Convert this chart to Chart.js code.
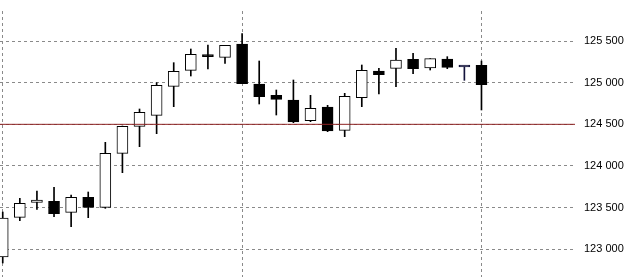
<!DOCTYPE html>
<html>
<head>
<meta charset="utf-8">
<script src="https://cdn.jsdelivr.net/npm/chart.js@4/dist/chart.umd.min.js"></script>
<style>
  html, body { margin: 0; padding: 0; background: #fff; }
  #wrap { width: 638px; height: 277px; }
</style>
</head>
<body>
<div id="wrap"><canvas id="myChart" width="638" height="277"></canvas></div>
<script>
// candles, left to right
const opens  = [122908, 123384, 123564, 123576, 123444, 123624, 123504, 124152, 124476, 124608,
                124956, 125148, 125332, 125304, 125464, 124984, 124848, 124792, 124544, 124708,
                124428, 124820, 125140, 125172, 125280, 125176, 125284, 125188, 125208];
const highs  = [123448, 123612, 123700, 123744, 123652, 123688, 124284, 124480, 124684, 125000,
                125240, 125404, 125452, 125448, 125588, 125260, 124912, 125032, 124848, 124728,
                124872, 125212, 125172, 125412, 125352, 125288, 125312, 125188, 125260];
const lows   = [122836, 123344, 123480, 123392, 123272, 123380, 123492, 123920, 124232, 124388,
                124712, 125080, 125164, 125232, 124988, 124744, 124612, 124520, 124532, 124412,
                124352, 124712, 124864, 124952, 125108, 125152, 125168, 125028, 124672];
const closes = [123376, 123552, 123592, 123428, 123624, 123504, 124152, 124476, 124644, 124968,
                125136, 125340, 125312, 125448, 124988, 124832, 124800, 124528, 124692, 124420,
                124836, 125148, 125096, 125272, 125168, 125288, 125184, 125188, 124976];

const refLevel = 124500;
const xGridAt = [0, 14, 28];
const yTicks = [123000, 123500, 124000, 124500, 125000, 125500];
const yMin = 122668, yMax = 125860;
const xMin = -0.16, xMax = 33.47;

let bodyBg = [], bodyBorder = [], wickColor = [];
for (let i = 0; i < opens.length; i++) {
    if (opens[i] === closes[i]) {
        bodyBg.push('#14143c'); bodyBorder.push('#14143c'); wickColor.push('#14143c');
    } else if (closes[i] > opens[i]) {
        bodyBg.push('#ffffff'); bodyBorder.push('#000000'); wickColor.push('#000000');
    } else {
        bodyBg.push('#000000'); bodyBorder.push('#000000'); wickColor.push('#000000');
    }
}

const wicks = lows.map((l, i) => ({ x: i, y: [l, highs[i]] }));
const bodies = opens.map((o, i) => ({ x: i, y: [o, closes[i]] }));

const fmt = v => String(v).replace(/\B(?=(\d{3})+(?!\d))/g, ' ');
const noPad = s => { s.paddingTop = 0; s.paddingBottom = 0; s.paddingLeft = 0; s.paddingRight = 0; };

new Chart(document.getElementById('myChart'), {
    data: {
        datasets: [
            {
                type: 'line',
                data: [{ x: xMin, y: refLevel }, { x: xMax, y: refLevel }],
                borderColor: '#8e2222',
                borderWidth: 1,
                pointRadius: 0,
                order: 0
            },
            {
                type: 'bar',
                data: bodies,
                backgroundColor: bodyBg,
                borderColor: bodyBorder,
                borderWidth: 1,
                borderSkipped: false,
                barThickness: 11,
                minBarLength: 2,
                grouped: false,
                order: 1
            },
            {
                type: 'bar',
                data: wicks,
                backgroundColor: wickColor,
                borderWidth: 0,
                barThickness: 1,
                grouped: false,
                order: 2
            }
        ]
    },
    options: {
        responsive: false,
        animation: false,
        layout: { padding: { top: 11 } },
        plugins: { legend: { display: false }, tooltip: { enabled: false } },
        scales: {
            x: {
                type: 'linear',
                min: xMin,
                max: xMax,
                offset: false,
                border: { display: false, dash: [3, 3] },
                grid: { color: '#8a8a8a', drawTicks: false, offset: false },
                ticks: { display: false },
                afterBuildTicks: s => { s.ticks = xGridAt.map(v => ({ value: v })); },
                afterFit: s => { s.height = 0; noPad(s); }
            },
            y: {
                position: 'right',
                min: yMin,
                max: yMax,
                border: { display: false, dash: [3, 3] },
                grid: { color: '#8a8a8a', drawTicks: false },
                ticks: {
                    padding: 9,
                    color: '#000000',
                    font: { family: 'Liberation Sans, Arial, sans-serif', size: 11 },
                    callback: v => fmt(v)
                },
                afterBuildTicks: s => { s.ticks = yTicks.map(v => ({ value: v })); },
                afterFit: s => { s.width = 63; noPad(s); }
            }
        }
    }
});
</script>
</body>
</html>
